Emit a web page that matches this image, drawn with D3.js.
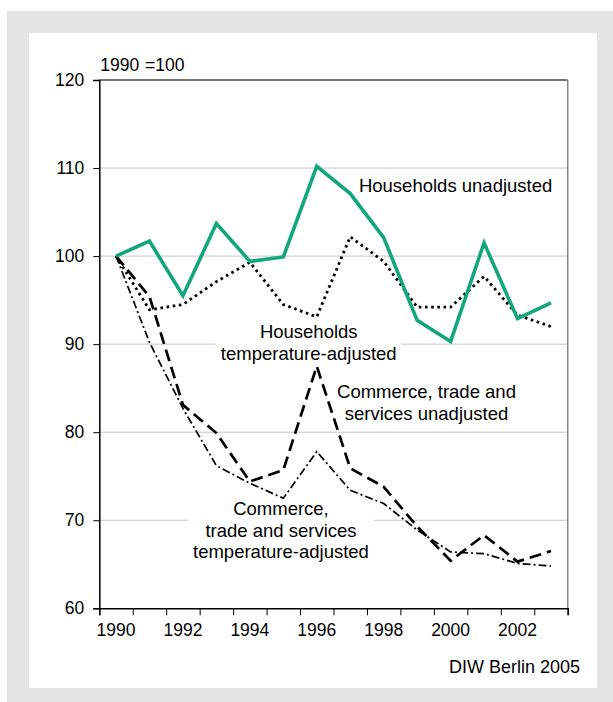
<!DOCTYPE html>
<html>
<head>
<meta charset="utf-8">
<script src="https://cdn.jsdelivr.net/npm/d3@7"></script>
<style>
  body { margin: 0; background: #fff; }
  text { font-family: "Liberation Sans", Arial, Helvetica, sans-serif; fill: #000; }
</style>
</head>
<body>
<svg id="chart" width="613" height="702"></svg>
<script>
// index, 1990 = 100
const years = [1990, 1991, 1992, 1993, 1994, 1995, 1996, 1997, 1998, 1999, 2000, 2001, 2002, 2003];
const householdsUnadjusted = [100, 101.7, 95.5, 103.7, 99.4, 99.9, 110.2, 107.1, 102.1, 92.7, 90.3, 101.5, 92.9, 94.7];
const householdsAdjusted = [100, 93.9, 94.5, 97.1, 99.3, 94.5, 93.1, 102.2, 99.4, 94.2, 94.2, 97.7, 93.3, 92.0];
const commerceUnadjusted = [100, 95.4, 83.1, 79.9, 74.4, 75.7, 87.5, 75.9, 73.8, 69.3, 65.4, 68.3, 65.3, 66.5];
const commerceAdjusted = [100, 90.2, 82.7, 76.2, 74.2, 72.5, 77.8, 73.4, 71.9, 68.9, 66.4, 66.2, 65.1, 64.8];

const yTicks = [60, 70, 80, 90, 100, 110, 120];
const xLabelYears = [1990, 1992, 1994, 1996, 1998, 2000, 2002];

const unitLabel = '1990 =100';
const sourceLabel = 'DIW Berlin 2005';

const svg = d3.select('#chart');
const margin = { top: 80, left: 99.3, right: 45.3, bottom: 93.7 };
const width = 613 - margin.left - margin.right;
const height = 702 - margin.top - margin.bottom;

// frame
svg.append('rect').attr('x', 7).attr('y', 11).attr('width', 606).attr('height', 691).attr('fill', '#e5e5e5');
svg.append('rect').attr('x', 29).attr('y', 33).attr('width', 568).attr('height', 655).attr('fill', '#fff');

const g = svg.append('g').attr('transform', `translate(${margin.left},${margin.top})`);

const x = d3.scaleLinear().domain([1990, 2004]).range([0, width]);
const y = d3.scaleLinear().domain([60, 120]).range([height, 0]);

// grid
g.append('g')
  .selectAll('line')
  .data(yTicks.filter(v => v > 60 && v < 120))
  .enter().append('line')
  .attr('x1', 0)
  .attr('x2', width)
  .attr('y1', d => y(d))
  .attr('y2', d => y(d))
  .attr('stroke', '#c6c6c6')
  .attr('stroke-width', 1);

// top and right border
g.append('line').attr('x1', 0).attr('x2', width).attr('y1', 0).attr('y2', 0)
  .attr('stroke', '#444').attr('stroke-width', 1.5);
g.append('line').attr('x1', width).attr('x2', width).attr('y1', 0).attr('y2', height)
  .attr('stroke', '#888').attr('stroke-width', 1.5);

// y axis
const yAxis = g.append('g')
  .call(d3.axisLeft(y).tickValues(yTicks).tickSize(6).tickPadding(9).tickFormat(d3.format('d')));
yAxis.select('.domain').attr('stroke', '#000').attr('stroke-width', 1.5);
yAxis.selectAll('.tick line').attr('stroke', '#000').attr('stroke-width', 1);
yAxis.selectAll('.tick text').style('font-size', '17.5px').attr('fill', '#000');

// x axis: ticks on year boundaries, labels in the middle of the year
const xAxis = g.append('g')
  .attr('transform', `translate(0,${height})`)
  .call(d3.axisBottom(x).tickValues(d3.range(1990, 2005)).tickSize(7).tickFormat(''));
xAxis.select('.domain').attr('stroke', '#000').attr('stroke-width', 1.5);
xAxis.selectAll('.tick line').attr('stroke', '#000').attr('stroke-width', 1);

g.append('g')
  .selectAll('text')
  .data(xLabelYears)
  .enter().append('text')
  .attr('x', d => x(d + 0.5))
  .attr('y', height + 27.5)
  .attr('text-anchor', 'middle')
  .style('font-size', '17.5px')
  .text(d => d);

g.append('text')
  .attr('x', 1)
  .attr('y', -9)
  .style('font-size', '17.5px')
  .style('word-spacing', '1px')
  .text(unitLabel);

svg.append('text')
  .attr('x', 580)
  .attr('y', 673)
  .attr('text-anchor', 'end')
  .style('font-size', '18px')
  .text(sourceLabel);

// series labels (with white boxes that hide the grid)
const labels = [
  { lines: ['Households unadjusted'], at: [2000.65, 107.3] },
  { lines: ['Households', 'temperature-adjusted'], at: [1996.26, 90.68] },
  { lines: ['Commerce, trade and', 'services unadjusted'], at: [1999.78, 83.86] },
  { lines: ['Commerce,', 'trade and services', 'temperature-adjusted'], at: [1995.43, 70.57] }
];

labels.forEach((lab) => {
  const lg = g.append('g');
  const t = lg.append('text')
    .attr('text-anchor', 'middle')
    .style('font-size', '18.5px');
  lab.lines.forEach((line, i) => {
    t.append('tspan')
      .attr('x', x(lab.at[0]))
      .attr('y', y(lab.at[1]) + i * 21.6)
      .text(line);
  });
  const bb = t.node().getBBox();
  lg.insert('rect', 'text')
    .attr('x', bb.x - 5)
    .attr('y', bb.y - 1)
    .attr('width', bb.width + 10)
    .attr('height', bb.height + 2)
    .attr('fill', '#fff');
});

// lines
const line = d3.line()
  .x((d, i) => x(years[i] + 0.5))
  .y(d => y(d));

const series = [
  { values: commerceAdjusted, color: '#000', width: 1.7, dash: '8,3,2,3' },
  { values: commerceUnadjusted, color: '#000', width: 2.7, dash: '12,6' },
  { values: householdsAdjusted, color: '#000', width: 2.8, dash: '2.6,3.6' },
  { values: householdsUnadjusted, color: '#12a67c', width: 3.6, dash: null }
];

g.selectAll('.series')
  .data(series)
  .enter().append('path')
  .attr('class', 'series')
  .attr('fill', 'none')
  .attr('stroke', d => d.color)
  .attr('stroke-width', d => d.width)
  .attr('stroke-dasharray', d => d.dash)
  .attr('stroke-linejoin', 'miter')
  .attr('d', d => line(d.values));
</script>
</body>
</html>
